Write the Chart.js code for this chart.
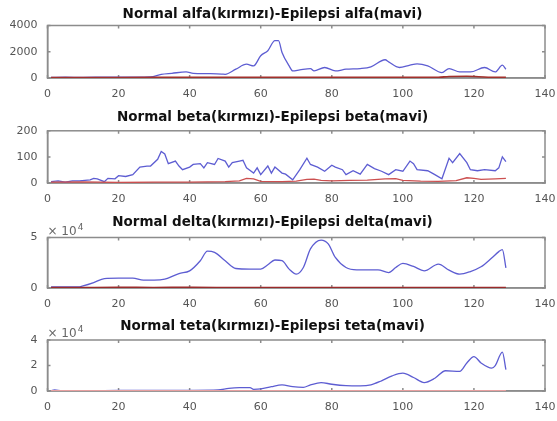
<!DOCTYPE html>
<html><head><meta charset="utf-8">
<script src="https://cdn.jsdelivr.net/npm/chart.js@4.4.1/dist/chart.umd.min.js"></script>
<style>
html,body{margin:0;padding:0;background:#fff;width:557px;height:421px;overflow:hidden;position:relative}
canvas{position:absolute;left:0;display:block}
.ex{position:absolute;font:12px "DejaVu Sans";line-height:12px;color:#666;white-space:nowrap}
.ex sup{font-size:9px;line-height:9px;vertical-align:5px;margin-left:1px}
</style></head><body>
<canvas id="c1"></canvas>
<canvas id="c2"></canvas>
<canvas id="c3"></canvas>
<canvas id="c4"></canvas>
<script>
// ---- data ----
const xTicks = [0,20,40,60,80,100,120,140];

const alfaTitle = 'Normal alfa(kırmızı)-Epilepsi alfa(mavi)';
const alfaTicks = [0,2000,4000];
const alfaEpiX = [1,5,10,15,20,25,29,32,35,39,41,45,49,50,53,56,58,60,62,64,65,66,68,69,71,74,75,78,81,84,88,91,95,96,99,102,104,107,111,113,116,119,123,126,128,129];
const alfaEpi  = [50,60,50,60,70,60,80,280,360,460,360,330,300,280,670,1050,925,1700,2080,2850,2850,1950,925,540,620,720,540,800,540,670,720,850,1390,1230,800,980,1080,925,410,720,460,460,800,460,980,670];
const alfaNorX = [1,20,40,60,80,100,110,113,118,124,129];
const alfaNor  = [40,40,50,50,50,50,50,120,130,60,50];

const betaTitle = 'Normal beta(kırmızı)-Epilepsi beta(mavi)';
const betaTicks = [0,100,200];
const betaEpiX = [1,3,5,7,9,12,13,14,16,17,19,20,22,24,26,28,29,31,32,33,34,36,37,38,40,41,43,44,45,47,48,50,51,52,54,55,56,58,59,60,62,63,64,66,67,69,71,73,74,76,78,80,81,83,84,86,88,90,92,94,96,98,100,102,103,104,107,109,111,113,114,116,118,119,121,123,126,127,128,129];
const betaEpi  = [5,8,3,8,8,12,18,16,5,18,16,28,25,32,61,65,65,91,121,111,74,84,65,51,61,71,74,58,78,71,94,84,61,78,84,87,58,38,58,32,65,38,61,38,34,12,51,95,71,61,45,68,61,51,32,47,34,71,55,45,32,51,45,84,74,51,47,32,16,95,78,113,78,51,47,51,47,58,100,82];
const betaNorX = [1,10,20,30,40,50,54,56,58,60,66,70,73,75,77,80,85,90,95,98,100,105,110,115,118,120,122,126,129];
const betaNor  = [3,4,2,3,3,5,8,18,16,6,5,7,14,15,10,8,10,11,16,17,10,7,6,9,20,18,14,16,18];

const deltaTitle = 'Normal delta(kırmızı)-Epilepsi delta(mavi)';
const deltaTicks = [0,50000];
const deltaEpiX = [1,5,9,10,13,16,20,24,27,30,33,37,40,43,45,47,50,53,57,60,62,64,66,68,70,72,74,77,79,81,84,87,89,93,96,98,100,103,106,110,113,116,119,122,125,127,128,129];
const deltaEpi  = [1000,1000,1200,2000,5300,9300,9700,9700,7700,7700,8700,14300,17000,27000,36500,35300,27000,19300,18700,18700,23000,27700,27000,18700,13700,20300,38700,47500,43700,30300,20300,18000,18000,18000,15300,20300,24300,21300,17000,23700,17700,13700,16300,21000,29700,36000,38000,20000];
const deltaNorX = [1,10,20,30,40,50,60,70,80,90,100,110,120,129];
const deltaNor  = [300,350,400,350,400,350,300,350,300,350,300,350,300,300];

const tetaTitle = 'Normal teta(kırmızı)-Epilepsi teta(mavi)';
const tetaTicks = [0,20000,40000];
const tetaEpiX = [1,2,4,12,20,30,40,48,51,54,57,58,60,63,66,69,72,74,77,80,84,88,91,94,97,100,103,106,109,112,116,118,120,122,125,126,128,129];
const tetaEpi  = [300,800,300,300,400,400,500,800,2100,2600,2600,1300,1600,3400,4800,3400,2900,4800,6600,5300,4200,4000,4800,8000,11900,14000,10600,6600,10000,15900,15400,22000,27000,22000,18000,19900,30500,16700];
const tetaNorX = [1,20,40,60,80,100,120,129];
const tetaNor  = [200,200,200,150,150,150,150,150];

// ---- drawing ----
const FONT = 'DejaVu Sans';
const toXY = (xs, ys) => xs.map((x, i) => ({x: x, y: ys[i]}));

const boxPlugin = {
  id: 'matlabBox',
  beforeDatasetsDraw(chart) {
    const ctx = chart.ctx, a = chart.chartArea;
    const x = chart.scales.x, y = chart.scales.y;
    ctx.save();
    ctx.strokeStyle = '#8c8c8c';
    ctx.lineWidth = 1.5;
    ctx.strokeRect(a.left, a.top, a.right - a.left, a.bottom - a.top);
    ctx.beginPath();
    xTicks.forEach(v => {
      const px = x.getPixelForValue(v);
      ctx.moveTo(px, a.bottom); ctx.lineTo(px, a.bottom - 3);
      ctx.moveTo(px, a.top); ctx.lineTo(px, a.top + 3);
    });
    y.ticks.forEach(t => {
      const py = y.getPixelForValue(t.value);
      ctx.moveTo(a.left, py); ctx.lineTo(a.left + 3, py);
      ctx.moveTo(a.right, py); ctx.lineTo(a.right - 3, py);
    });
    ctx.stroke();
    ctx.restore();
  }
};

function makeChart(n, p) {
  const cv = document.getElementById('c' + n);
  cv.width = 557; cv.height = p.height;
  cv.style.top = p.top + 'px'; cv.style.width = '557px'; cv.style.height = p.height + 'px';
  const ds = [
    {label: 'Normal', data: toXY(p.norX, p.nor), borderColor: p.red, borderWidth: p.redW, pointRadius: 0, order: 0},
    {label: 'Epilepsi', data: toXY(p.epiX, p.epi), borderColor: '#5d5dd2', borderWidth: 1.3, pointRadius: 0, order: 1}
  ];
  if (p.smooth) ds.forEach(d => d.cubicInterpolationMode = 'monotone');
  const chart = new Chart(cv, {
    type: 'line',
    data: {datasets: ds},
    options: {
      responsive: false, maintainAspectRatio: false, animation: false, devicePixelRatio: 1,
      layout: {padding: {left: 0, right: 12, top: 0, bottom: 0}},
      plugins: {
        legend: {display: false},
        tooltip: {enabled: false},
        title: {display: true, text: p.title, color: '#111',
          font: {family: FONT, size: 13.5, weight: 'bold', lineHeight: 1.2},
          padding: {top: 0, bottom: p.titlePad}}
      },
      scales: {
        x: {
          type: 'linear', min: 0, max: 140,
          grid: {display: false, drawTicks: false},
          border: {display: true, color: '#8c8c8c', width: 1.5},
          afterBuildTicks: s => { s.ticks = xTicks.map(v => ({value: v})); },
          afterFit: s => { s.height = 24; s.paddingLeft = 0; s.paddingRight = 0; },
          ticks: {font: {family: FONT, size: 11}, color: '#555', padding: 9.5, maxRotation: 0, autoSkip: false,
            callback: v => String(v)}
        },
        y: {
          type: 'linear', min: p.ticks[0], max: p.ticks[p.ticks.length - 1],
          grid: {display: false, drawTicks: false},
          border: {display: true, color: '#8c8c8c', width: 1.5},
          afterBuildTicks: s => { s.ticks = p.ticks.map(v => ({value: v})); },
          afterFit: s => { s.width = 47.5; },
          ticks: {font: {family: FONT, size: 11}, color: '#555', padding: 10, autoSkip: false,
            callback: v => String(p.exponent ? v / 10000 : v)}
        }
      }
    },
    plugins: [boxPlugin]
  });
  if (p.exponent) {
    const a = chart.chartArea;
    const ex = document.createElement('div');
    ex.className = 'ex';
    ex.innerHTML = '\u00d7 10<sup>4</sup>';
    ex.style.left = a.left + 'px';
    ex.style.top = (p.top + a.top - 9 - 6) + 'px';
    document.body.appendChild(ex);
  }
}

makeChart(1, {top: 6, height: 96, titlePad: 3.3, title: alfaTitle, ticks: alfaTicks,
  epiX: alfaEpiX, epi: alfaEpi, norX: alfaNorX, nor: alfaNor, red: '#a3302b', redW: 1.6, smooth: true, exponent: false});
makeChart(2, {top: 109, height: 98, titlePad: 5.6, title: betaTitle, ticks: betaTicks,
  epiX: betaEpiX, epi: betaEpi, norX: betaNorX, nor: betaNor, red: '#cc5050', redW: 1.3, smooth: false, exponent: false});
makeChart(3, {top: 214, height: 98, titlePad: 7.3, title: deltaTitle, ticks: deltaTicks,
  epiX: deltaEpiX, epi: deltaEpi, norX: deltaNorX, nor: deltaNor, red: '#9a2a2a', redW: 2, smooth: true, exponent: true});
makeChart(4, {top: 318, height: 97, titlePad: 5.8, title: tetaTitle, ticks: tetaTicks,
  epiX: tetaEpiX, epi: tetaEpi, norX: tetaNorX, nor: tetaNor, red: '#e8a0a0', redW: 1.5, smooth: true, exponent: true});
</script>
</body></html>
